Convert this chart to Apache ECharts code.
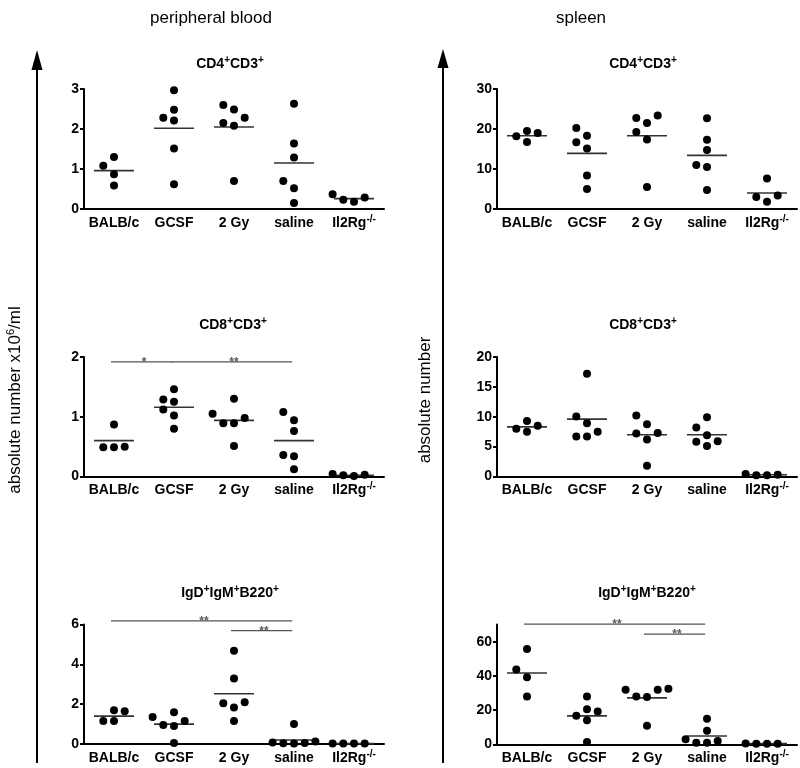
<!DOCTYPE html>
<html><head><meta charset="utf-8">
<script src="https://cdn.jsdelivr.net/npm/echarts@6/dist/echarts.min.js"></script>
<style>html,body{margin:0;padding:0;background:#fff}#c{width:800px;height:768px}</style>
</head><body><div id="c"></div>
<script>
// ---------- data ----------
const groups = ['BALB/c', 'GCSF', '2 Gy', 'saline', 'Il2Rg-/-'];

// peripheral blood, CD4+CD3+ (x10^6/ml)
const pbCD4 = [[1.3, 1.08, 0.87, 0.59], [2.97, 2.48, 2.28, 2.21, 1.51, 0.62], [2.6, 2.49, 2.28, 2.15, 2.08, 0.7], [2.63, 1.64, 1.29, 0.7, 0.52, 0.15], [0.37, 0.29, 0.23, 0.18]];
const pbCD4Mean = [0.96, 2.02, 2.05, 1.15, 0.26];
const pbCD4Ticks = [0, 1, 2, 3];

// spleen, CD4+CD3+
const spCD4 = [[19.5, 19.0, 18.2, 16.75], [20.25, 18.3, 16.7, 15.1, 8.4, 5.0], [23.4, 22.75, 21.5, 19.25, 17.4, 5.5], [22.7, 17.3, 14.75, 11.0, 10.5, 4.75], [7.6, 3.4, 3.0, 1.8]];
const spCD4Mean = [18.3, 13.9, 18.3, 13.4, 4.0];
const spCD4Ticks = [0, 10, 20, 30];

// peripheral blood, CD8+CD3+
const pbCD8 = [[0.87, 0.5, 0.49, 0.49], [1.46, 1.29, 1.25, 1.12, 1.02, 0.8], [1.3, 1.05, 0.98, 0.89, 0.89, 0.51], [1.08, 0.94, 0.76, 0.36, 0.34, 0.12], [0.04, 0.03, 0.02, 0.01]];
const pbCD8Mean = [0.6, 1.16, 0.94, 0.6, 0.02];
const pbCD8Ticks = [0, 1, 2];
const pbCD8Sig = [[0, 1, 1.92, '*'], [1, 3, 1.92, '**']];

// spleen, CD8+CD3+
const spCD8 = [[9.3, 8.5, 8.0, 7.5], [17.2, 10.05, 8.9, 7.5, 6.7, 6.7], [10.2, 8.75, 7.3, 7.2, 6.2, 1.8], [9.9, 8.2, 6.9, 5.9, 5.8, 5.1], [0.4, 0.3, 0.2, 0.2]];
const spCD8Mean = [8.3, 9.6, 7.0, 7.0, 0.3];
const spCD8Ticks = [0, 5, 10, 15, 20];

// peripheral blood, IgD+IgM+B220+
const pbIgD = [[1.7, 1.65, 1.15, 1.15], [1.6, 1.35, 1.15, 0.95, 0.9, 0.05], [4.68, 3.29, 2.1, 2.05, 1.83, 1.15], [1.0, 0.12, 0.08, 0.05, 0.04, 0.02], [0.03, 0.02, 0.02, 0.02]];
const pbIgDMean = [1.4, 1.0, 2.52, 0.2, 0.02];
const pbIgDTicks = [0, 2, 4, 6];
const pbIgDSig = [[0, 3, 6.18, '**'], [2, 3, 5.69, '**']];

// spleen, IgD+IgM+B220+
const spIgD = [[55.7, 43.8, 39.2, 28.0], [28.0, 20.5, 19.2, 16.7, 14.2, 1.5], [32.5, 31.9, 31.9, 28.0, 27.7, 11.0], [15.0, 8.0, 3.0, 2.0, 1.0, 1.0], [0.6, 0.5, 0.5, 0.4]];
const spIgDMean = [41.7, 16.7, 27.2, 5.0, 0.5];
const spIgDTicks = [0, 20, 40, 60];
const spIgDSig = [[0, 3, 70.2, '**'], [2, 3, 64.4, '**']];

// ---------- layout ----------
const FONT = '"Liberation Sans", Arial, Helvetica, sans-serif';
const panels = [
  {vals: pbCD4, means: pbCD4Mean, ticks: pbCD4Ticks, max: 3, sig: [], title: '{b|CD4}{s|+}{b|CD3}{s|+}', left: 84, top: 89, height: 120, tx: 230, ty: 64},
  {vals: spCD4, means: spCD4Mean, ticks: spCD4Ticks, max: 30, sig: [], title: '{b|CD4}{s|+}{b|CD3}{s|+}', left: 497, top: 89, height: 120, tx: 643, ty: 64},
  {vals: pbCD8, means: pbCD8Mean, ticks: pbCD8Ticks, max: 2, sig: pbCD8Sig, title: '{b|CD8}{s|+}{b|CD3}{s|+}', left: 84, top: 357, height: 119.5, tx: 233, ty: 325},
  {vals: spCD8, means: spCD8Mean, ticks: spCD8Ticks, max: 20, sig: [], title: '{b|CD8}{s|+}{b|CD3}{s|+}', left: 497, top: 357, height: 119.5, tx: 643, ty: 325},
  {vals: pbIgD, means: pbIgDMean, ticks: pbIgDTicks, max: 6, sig: pbIgDSig, title: '{b|IgD}{s|+}{b|IgM}{s|+}{b|B220}{s|+}', left: 84, top: 624.5, height: 119.5, tx: 230, ty: 593},
  {vals: spIgD, means: spIgDMean, ticks: spIgDTicks, max: 70, sig: spIgDSig, title: '{b|IgD}{s|+}{b|IgM}{s|+}{b|B220}{s|+}', left: 497, top: 624.5, height: 120, tx: 647, ty: 593}
];
const GRID_W = 300;
const COL_PX = 10.7;      // horizontal spacing between dot columns (px)
const COLLIDE_PX = 10;    // dots closer than this are spread apart

function swarm(vals, gi, pxPerUnit, catPx) {
  const placed = [];
  const order = vals.map((v, k) => k).sort((a, b) => vals[a] - vals[b]);
  order.forEach(k => {
    const y = vals[k] * pxPerUnit;
    for (const c of [0, -1, 1, -2, 2, -3, 3]) {
      const x = c * COL_PX;
      if (placed.every(p => Math.hypot(p.x - x, p.y - y) >= COLLIDE_PX)) {
        placed.push({x, y, c, v: vals[k]});
        break;
      }
    }
  });
  return placed.map(p => [gi + p.c * COL_PX / catPx, p.v]);
}

const titleRich = {
  b: {fontSize: 14, fontWeight: 'bold', fontFamily: FONT, lineHeight: 18, color: '#000'},
  s: {fontSize: 10, fontWeight: 'bold', fontFamily: FONT, lineHeight: 18, verticalAlign: 'top', color: '#000'}
};

const grid = [], xAxis = [], yAxis = [], series = [];
panels.forEach((p, i) => {
  grid.push({left: p.left, top: p.top, width: GRID_W, height: p.height});
  xAxis.push({
    type: 'category', gridIndex: i, data: groups,
    axisLine: {onZero: false, lineStyle: {color: '#000', width: 2}},
    axisTick: {show: false},
    axisLabel: {
      interval: 0, margin: 5, color: '#000',
      formatter: v => v === 'Il2Rg-/-' ? '{b|Il2Rg}{s|-/-}' : '{b|' + v + '}',
      rich: titleRich
    }
  });
  xAxis.push({type: 'value', gridIndex: i, min: -0.5, max: 4.5, show: false});
  yAxis.push({
    type: 'value', gridIndex: i, min: 0, max: p.max,
    axisLine: {show: true, onZero: false, lineStyle: {color: '#000', width: 2}},
    axisTick: {show: true, length: 4, lineStyle: {color: '#000', width: 2}, customValues: p.ticks},
    axisLabel: {customValues: p.ticks, color: '#000', fontSize: 14, fontWeight: 'bold', fontFamily: FONT, margin: 5},
    splitLine: {show: false}
  });
  const pxPerUnit = p.height / p.max;
  const catPx = GRID_W / groups.length;
  let dots = [];
  p.vals.forEach((g, gi) => { dots = dots.concat(swarm(g, gi, pxPerUnit, catPx)); });
  series.push({
    type: 'scatter', xAxisIndex: 2 * i + 1, yAxisIndex: i, data: dots,
    symbol: 'circle', symbolSize: 8, itemStyle: {color: '#000', opacity: 1}, clip: false, silent: true, z: 3
  });
  series.push({
    type: 'scatter', xAxisIndex: 2 * i + 1, yAxisIndex: i,
    data: p.means.map((m, gi) => [gi, m]),
    symbol: 'rect', symbolSize: [40, 1.6], itemStyle: {color: '#333', opacity: 1}, clip: false, silent: true, z: 2
  });
  p.sig.forEach(s => {
    series.push({
      type: 'line', xAxisIndex: 2 * i + 1, yAxisIndex: i,
      data: [[s[0] - 0.05, s[2]], [s[1] - 0.03, s[2]]],
      symbol: 'none', lineStyle: {color: '#555', width: 1.2}, clip: false, silent: true, animation: false
    });
    series.push({
      type: 'scatter', xAxisIndex: 2 * i + 1, yAxisIndex: i,
      data: [[(s[0] + s[1]) / 2, s[2]]], symbolSize: 0, clip: false, silent: true,
      label: {show: true, position: 'inside', formatter: s[3], color: '#333', fontSize: 12, fontWeight: 'bold', fontFamily: FONT, offset: [0, 1]}
    });
  });
});

const graphicEls = [];
// big arrows
graphicEls.push({type: 'line', shape: {x1: 37, y1: 763, x2: 37, y2: 62}, style: {stroke: '#000', lineWidth: 2}});
graphicEls.push({type: 'polygon', shape: {points: [[37, 50], [31.5, 70], [42.5, 70]]}, style: {fill: '#000'}});
graphicEls.push({type: 'line', shape: {x1: 443, y1: 763, x2: 443, y2: 62}, style: {stroke: '#000', lineWidth: 2}});
graphicEls.push({type: 'polygon', shape: {points: [[443, 49], [437.5, 68], [448.5, 68]]}, style: {fill: '#000'}});
// section titles
graphicEls.push({type: 'text', x: 211, y: 18, style: {text: 'peripheral blood', font: '17px ' + FONT, fill: '#000', align: 'center', verticalAlign: 'middle'}});
graphicEls.push({type: 'text', x: 581, y: 18, style: {text: 'spleen', font: '17px ' + FONT, fill: '#000', align: 'center', verticalAlign: 'middle'}});
// axis titles
const bigRich = {
  r: {fontSize: 17, fontFamily: FONT, lineHeight: 20, color: '#000'},
  s: {fontSize: 11, fontFamily: FONT, lineHeight: 20, verticalAlign: 'top', color: '#000'}
};
graphicEls.push({type: 'text', x: 15, y: 400, rotation: Math.PI / 2, style: {text: '{r|absolute number x10}{s|6}{r|/ml}', rich: bigRich, align: 'center', verticalAlign: 'middle'}});
graphicEls.push({type: 'text', x: 425, y: 400, rotation: Math.PI / 2, style: {text: '{r|absolute number}', rich: bigRich, align: 'center', verticalAlign: 'middle'}});
// panel titles
panels.forEach(p => {
  graphicEls.push({type: 'text', x: p.tx, y: p.ty, style: {text: p.title, rich: titleRich, align: 'center', verticalAlign: 'middle'}});
});

const chart = echarts.init(document.getElementById('c'), null, {renderer: 'canvas'});
chart.setOption({
  backgroundColor: '#fff',
  animation: false,
  grid, xAxis, yAxis, series,
  graphic: {elements: graphicEls}
});
</script></body></html>
